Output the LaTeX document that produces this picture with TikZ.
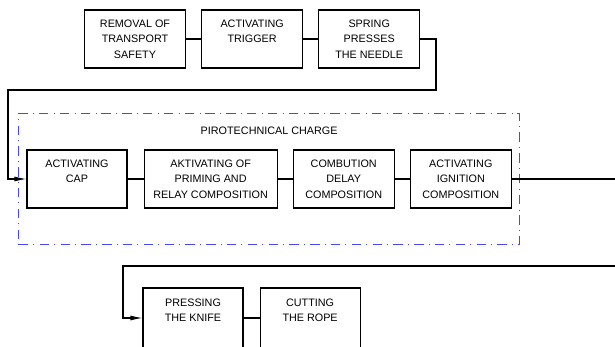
\documentclass[tikz,border=0pt]{standalone}
\usepackage{fontspec}
\setmainfont{Liberation Sans}
\usetikzlibrary{positioning, arrows.meta, fit}
\definecolor{chargeblue}{RGB}{70,70,255}
\tikzset {
    x=1pt, y=-1pt,
    node distance=15pt,
    block/.style={draw, line width=1.1pt, minimum width=101pt, minimum height=58pt,
        inner sep=0pt, align=center, font=\fontsize{10.8}{15.5}\selectfont},
    link/.style={line width=1.1pt},
    flow/.style={line width=1.1pt, -{Latex[length=12pt, width=5pt]}},
    charge/.style={draw=chargeblue, line width=1pt,
        dash pattern=on 9.5pt off 5pt on 0.8pt off 5.5pt},
    caption/.style={font=\fontsize{10.8}{12}\selectfont}
}

\begin{document}
\begin{tikzpicture}
                \useasboundingbox (0,0) rectangle (615,347);

                % first row
                \node[block] (r1) at (135,39) {REMOVAL OF\\TRANSPORT\\SAFETY};
                \node[block, right=of r1] (r2) {ACTIVATING\\TRIGGER\\~};
                \node[block, right=of r2] (r3) {SPRING\\PRESSES\\THE NEEDLE};

                % pirotechnical charge
                \node[block, minimum width=100pt] (c1) at (77,179) {ACTIVATING\\CAP\\~};
                \node[block, minimum width=133pt, right=16pt of c1] (c2) {AKTIVATING OF\\PRIMING AND\\RELAY COMPOSITION};
                \node[block, right=of c2] (c3) {COMBUTION\\DELAY\\COMPOSITION};
                \node[block, right=of c3] (c4) {ACTIVATING\\IGNITION\\COMPOSITION};
                \node[charge, fit=(c1)(c4), inner xsep=7.5pt, inner ysep=36pt] (pyro) {};
                \node[caption, below=10pt of pyro.north] (pyrotext) {PIROTECHNICAL CHARGE};

                % last row
                \node[block, minimum width=100pt, minimum height=60pt] (e1) at (193,318) {PRESSING\\THE KNIFE\\~};
                \node[block, minimum width=100pt, minimum height=60pt, right=16pt of e1] (e2) {CUTTING\\THE ROPE\\~};

                \coordinate (k1) at (436,90);
                \coordinate (k2) at (8,90);
                \coordinate (k3) at (618,266);
                \coordinate (k4) at (123,266);

                \draw[link] (r1) -- (r2) (r2) -- (r3) (c1) -- (c2) (c2) -- (c3) (c3) -- (c4) (e1) -- (e2);
                \draw[flow] (r3.east) -| (k1) -- (k2) |- (c1.west);
                \draw[flow] (c4.east) -| (k3) -- (k4) |- (e1.west);
            \end{tikzpicture}
\end{document}
